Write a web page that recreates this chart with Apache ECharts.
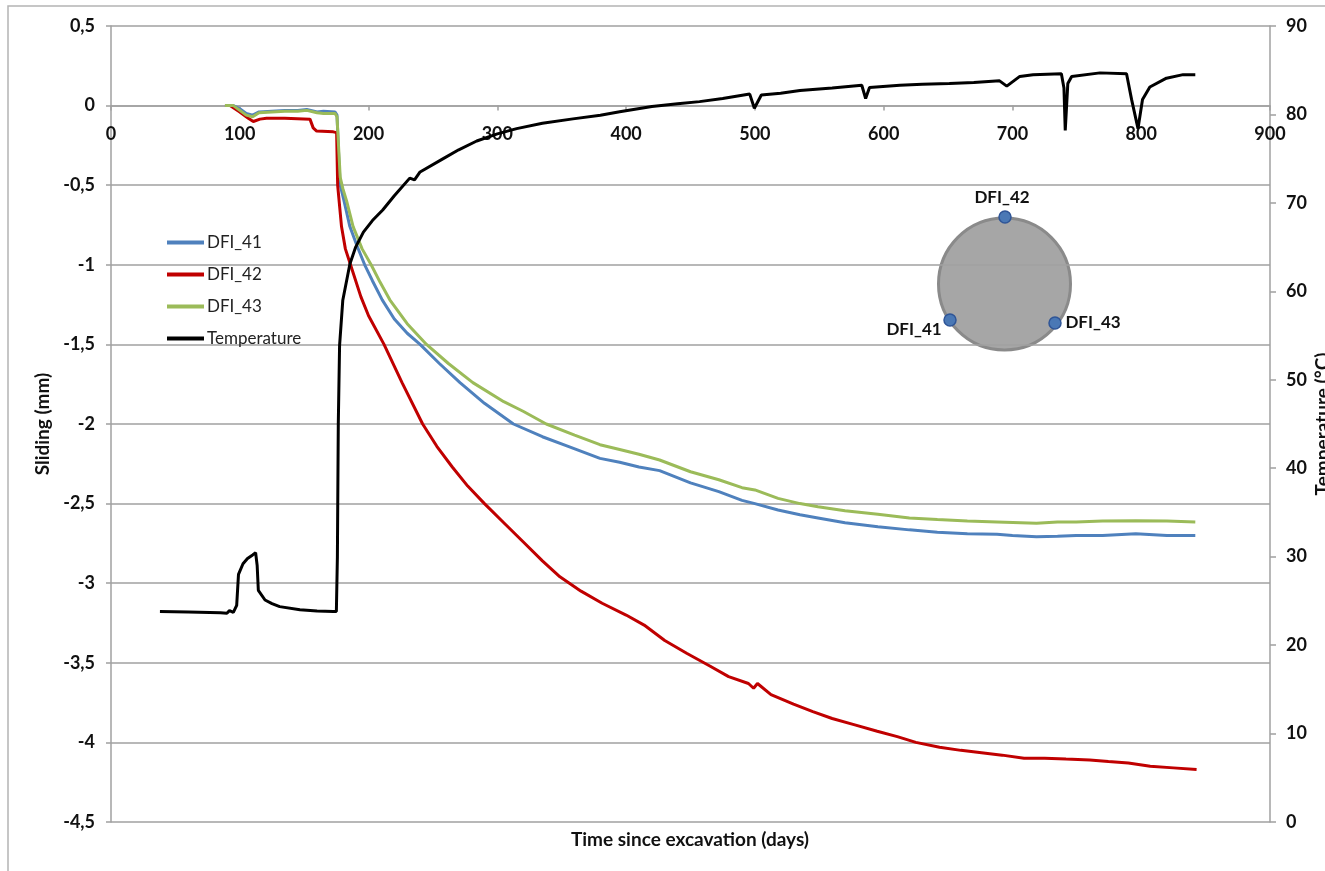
<!DOCTYPE html>
<html>
<head>
<meta charset="utf-8">
<script src="https://cdn.jsdelivr.net/npm/echarts@6/dist/echarts.min.js"></script>
<style>
html,body{margin:0;padding:0;background:#fff;}
#chart{width:1325px;height:871px;}
</style>
</head>
<body>
<div id="chart"></div>
<script>
// ---- data ----
const xTicks = [0,100,200,300,400,500,600,700,800,900];
const slidingTicks = [-4.5,-4,-3.5,-3,-2.5,-2,-1.5,-1,-0.5,0,0.5];
const tempTicks = [0,10,20,30,40,50,60,70,80,90];

const dfi41 = [[88.5,0],[95,0],[100,-0.02],[105,-0.05],[110,-0.06],[115,-0.04],[125,-0.035],[135,-0.03],[145,-0.03],[152,-0.025],[160,-0.04],[165,-0.035],[174,-0.04],[175.5,-0.06],[177,-0.35],[178,-0.5],[181,-0.6],[185.5,-0.76],[191,-0.88],[197,-1.0],[203,-1.1],[210.6,-1.22],[220,-1.34],[230,-1.43],[240,-1.5],[255,-1.62],[271,-1.74],[290,-1.87],[312.5,-2.0],[335,-2.08],[355,-2.14],[379.7,-2.216],[395,-2.24],[410,-2.27],[426,-2.293],[450,-2.37],[472,-2.425],[490,-2.48],[500,-2.5],[518,-2.54],[535,-2.57],[549,-2.59],[570,-2.62],[595.5,-2.645],[620,-2.665],[641.7,-2.68],[665,-2.69],[688,-2.693],[700,-2.70],[718.7,-2.708],[735,-2.705],[749.5,-2.70],[770,-2.70],[795.8,-2.69],[820,-2.70],[842,-2.70]];

const dfi42 = [[88.5,0],[92.4,0],[100,-0.04],[106.6,-0.08],[110.5,-0.1],[115.7,-0.085],[120.8,-0.08],[135,-0.08],[154.5,-0.085],[157,-0.14],[159.7,-0.16],[172.6,-0.165],[175.2,-0.17],[176,-0.5],[179,-0.76],[182,-0.9],[186,-1.0],[194,-1.2],[200,-1.32],[212,-1.5],[226,-1.74],[242,-2.0],[253,-2.14],[265,-2.27],[277,-2.39],[290,-2.5],[305,-2.62],[320,-2.74],[335,-2.86],[348.6,-2.96],[365,-3.05],[381.4,-3.126],[400,-3.2],[414,-3.263],[430,-3.36],[447,-3.44],[465,-3.52],[479.6,-3.587],[495,-3.63],[499,-3.66],[502,-3.63],[512.5,-3.70],[530,-3.76],[545,-3.807],[560,-3.85],[577.6,-3.89],[595,-3.93],[610.6,-3.964],[625,-4.0],[643.4,-4.03],[660,-4.05],[676,-4.065],[692,-4.08],[709,-4.10],[725,-4.10],[741.6,-4.105],[760,-4.11],[774.5,-4.12],[790,-4.13],[807,-4.15],[825,-4.16],[843,-4.17]];

const dfi43 = [[88.5,0],[95,0],[100,-0.03],[105,-0.06],[110,-0.07],[115,-0.045],[125,-0.04],[135,-0.035],[145,-0.035],[152,-0.03],[160,-0.045],[165,-0.05],[174,-0.05],[175.5,-0.07],[177,-0.3],[178,-0.45],[180,-0.52],[183,-0.6],[188,-0.76],[195,-0.9],[202,-1.0],[209,-1.11],[216.5,-1.22],[230,-1.37],[245,-1.5],[262,-1.62],[281,-1.74],[305,-1.86],[320,-1.92],[338,-2.0],[360,-2.07],[379.7,-2.13],[395,-2.16],[410,-2.19],[426,-2.226],[450,-2.3],[472,-2.35],[490,-2.4],[500,-2.414],[518,-2.467],[535,-2.5],[549,-2.52],[570,-2.545],[595.5,-2.567],[620,-2.59],[641.7,-2.60],[665,-2.61],[688,-2.615],[718.7,-2.624],[735,-2.615],[749.5,-2.615],[770,-2.61],[795.8,-2.607],[820,-2.61],[842,-2.615]];

const temperature = [[38,23.8],[60,23.75],[85,23.65],[90,23.6],[92,23.9],[95,23.7],[97.6,24.5],[99,28.0],[102.5,29.2],[106,29.8],[110,30.2],[112.3,30.45],[113.5,29],[114.4,26.2],[119.6,25.1],[125,24.7],[131,24.35],[146.7,24.0],[160,23.85],[172.6,23.8],[175,23.8],[175.8,30],[176.5,45],[177.5,53.9],[180,59],[185.5,63.1],[190,65],[196,66.7],[203,68],[211,69.2],[220,70.8],[232,72.8],[235.7,72.6],[240,73.5],[258,75.0],[270,76.0],[284,77.0],[300,77.8],[315,78.4],[335,79.0],[358.7,79.5],[380,79.9],[395,80.3],[420,80.9],[440,81.2],[457,81.45],[475,81.8],[496,82.3],[499.6,80.7],[505,82.2],[520,82.4],[535,82.7],[560,83.0],[583,83.3],[586,81.8],[589,83.05],[612.6,83.3],[630,83.4],[651,83.5],[670,83.6],[690,83.8],[695.6,83.2],[705.7,84.3],[716,84.5],[738,84.6],[740,83],[741,78.2],[743,83.5],[746,84.3],[768,84.7],[788.6,84.6],[792.5,81.7],[797.5,78.4],[801,81.7],[806.7,83.1],[819.6,84.1],[832.5,84.5],[842,84.5]];

const seriesNames = ['DFI_41','DFI_42','DFI_43','Temperature'];
const seriesColors = ['#4f81bd','#c00000','#9bbb59','#000000'];

const FONT = 'Lato';
const gray = '#a0a0a0';

const chart = echarts.init(document.getElementById('chart'), null, {renderer:'canvas'});
const fmt = v => String(v).replace('.', ',');

// grid geometry (px)
const gridTop = 26, gridBottomPx = 822;
const yMin = slidingTicks[0], yMax = slidingTicks[slidingTicks.length-1];
const zeroOffset = -(gridBottomPx - (gridTop + (gridBottomPx - gridTop) * (yMax - 0) / (yMax - yMin)));

const option = {
  animation: false,
  backgroundColor: '#ffffff',
  grid: {left: 111, right: 55, top: gridTop, bottom: 871 - gridBottomPx, containLabel: false, outerBoundsMode: 'none'},
  legend: {
    orient: 'vertical', left: 162, top: 229,
    itemWidth: 37, itemHeight: 4, itemGap: 15,
    icon: 'rect',
    data: seriesNames,
    textStyle: {fontFamily: FONT, fontSize: 17, color: '#222', padding: [0,0,0,-2]}
  },
  xAxis: {
    type: 'value', min: xTicks[0], max: xTicks[xTicks.length-1], interval: 100,
    position: 'bottom', offset: zeroOffset,
    axisLine: {show: true, onZero: false, lineStyle: {color: gray, width: 1.5}},
    axisTick: {show: true, length: 5, lineStyle: {color: gray, width: 1.5}},
    axisLabel: {margin: 20, fontFamily: FONT, fontWeight: 'bold', fontSize: 18, color: '#111'},
    splitLine: {show: false}
  },
  yAxis: [{
    type: 'value', min: yMin, max: yMax, interval: 0.5,
    name: 'Sliding (mm)', nameLocation: 'middle', nameGap: 56, nameRotate: 90,
    nameTextStyle: {fontFamily: FONT, fontWeight: 'bold', fontSize: 19, color: '#111'},
    axisLine: {show: true, onZero: false, lineStyle: {color: gray, width: 1.5}},
    axisTick: {show: true, length: 5, lineStyle: {color: gray, width: 1.5}},
    axisLabel: {margin: 16, formatter: fmt, fontFamily: FONT, fontWeight: 'bold', fontSize: 18, color: '#111'},
    splitLine: {show: true, lineStyle: {color: gray, width: 1.5}}
  },{
    type: 'value', min: tempTicks[0], max: tempTicks[tempTicks.length-1], interval: 10,
    position: 'right',
    name: 'Temperature (°C)', nameLocation: 'middle', nameGap: 43, nameRotate: 90,
    nameMoveOverlap: false,
    nameTextStyle: {fontFamily: FONT, fontWeight: 'bold', fontSize: 19, color: '#111'},
    axisLine: {show: true, onZero: false, lineStyle: {color: gray, width: 1.5}},
    axisTick: {show: true, length: 6, lineStyle: {color: gray, width: 1.5}},
    axisLabel: {margin: 16, fontFamily: FONT, fontWeight: 'bold', fontSize: 18, color: '#111'},
    splitLine: {show: false}
  }],
  series: [
    {name: seriesNames[0], type: 'line', data: dfi41, yAxisIndex: 0, symbol: 'none', color: seriesColors[0], lineStyle: {width: 3}},
    {name: seriesNames[1], type: 'line', data: dfi42, yAxisIndex: 0, symbol: 'none', color: seriesColors[1], lineStyle: {width: 3}},
    {name: seriesNames[2], type: 'line', data: dfi43, yAxisIndex: 0, symbol: 'none', color: seriesColors[2], lineStyle: {width: 3}},
    {name: seriesNames[3], type: 'line', data: temperature, yAxisIndex: 1, symbol: 'none', color: seriesColors[3], lineStyle: {width: 3}}
  ],
  graphic: [
    {type: 'rect', silent: true, z: -10, shape: {x: 8, y: 6, width: 1400, height: 900},
     style: {fill: 'none', stroke: '#b4b4b4', lineWidth: 1.5}},
    {type: 'text', silent: true, x: 690, y: 840,
     style: {text: 'Time since excavation (days)', fontFamily: FONT, fontWeight: 'bold', fontSize: 19, fill: '#111', align: 'center', verticalAlign: 'middle'}},
    {type: 'circle', silent: true, shape: {cx: 1004.5, cy: 284, r: 66},
     style: {fill: '#a6a6a6', stroke: '#8a8a8a', lineWidth: 3}},
    {type: 'circle', silent: true, shape: {cx: 1005, cy: 217, r: 6},
     style: {fill: '#4a78b5', stroke: '#2f5597', lineWidth: 1.5}},
    {type: 'circle', silent: true, shape: {cx: 950, cy: 320, r: 6},
     style: {fill: '#4a78b5', stroke: '#2f5597', lineWidth: 1.5}},
    {type: 'circle', silent: true, shape: {cx: 1055, cy: 323, r: 6},
     style: {fill: '#4a78b5', stroke: '#2f5597', lineWidth: 1.5}},
    {type: 'text', silent: true, x: 1002, y: 198,
     style: {text: 'DFI_42', fontFamily: FONT, fontWeight: 'bold', fontSize: 17, fill: '#111', align: 'center', verticalAlign: 'middle'}},
    {type: 'text', silent: true, x: 914, y: 330,
     style: {text: 'DFI_41', fontFamily: FONT, fontWeight: 'bold', fontSize: 17, fill: '#111', align: 'center', verticalAlign: 'middle'}},
    {type: 'text', silent: true, x: 1093, y: 323,
     style: {text: 'DFI_43', fontFamily: FONT, fontWeight: 'bold', fontSize: 17, fill: '#111', align: 'center', verticalAlign: 'middle'}}
  ]
};
chart.setOption(option);
</script>
</body>
</html>
